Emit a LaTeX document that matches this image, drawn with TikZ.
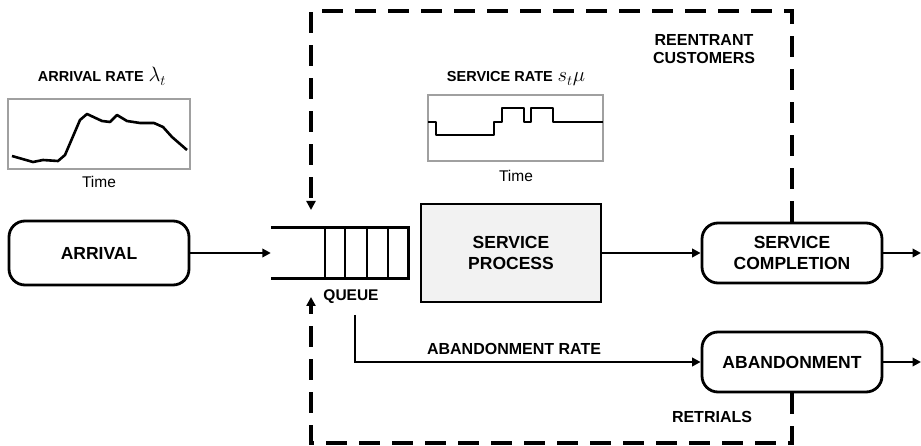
\documentclass[tikz,border=0pt]{standalone}
\usepackage{fontspec}
\setmainfont{Liberation Sans}
\usetikzlibrary{arrows.meta}
\newcommand\dgNode{\bfseries\fontsize{17.5}{21.5}\selectfont}
\newcommand\dgLabel{\bfseries\fontsize{16}{18.5}\selectfont}
\newcommand\dgTitle{\bfseries\fontsize{14.5}{17}\selectfont}
\newcommand\dgTime{\fontsize{15.5}{17}\selectfont}
\newcommand\dgMath{\fontsize{20.74}{21}\selectfont}
\definecolor{chartgray}{HTML}{A0A0A0}
\definecolor{procfill}{HTML}{F2F2F2}
\begin{document}
\begin{tikzpicture}[x=1pt,y=-1pt,
  rbox/.style={draw, line width=2.8pt, rounded corners=16pt, minimum width=180pt,
    minimum height=62pt, align=center, font=\dgNode, inner sep=0pt},
  pbox/.style={draw, line width=2.8pt, fill=procfill, minimum width=180pt,
    minimum height=98pt, align=center, font=\dgNode, inner sep=0pt},
  arr/.style={line width=2.8pt, -{Triangle[length=8.5pt,width=8.5pt]}},
  dline/.style={line width=3.3pt, dash pattern=on 21pt off 12pt,
    -{Triangle[length=9pt,width=9pt]}},
  chart/.style={draw=chartgray, line width=1.2pt},
  curve/.style={line width=2.6pt, line join=round},
  qline/.style={line width=2.8pt},
  lbl/.style={font=\dgLabel, align=center, inner sep=0pt},
]
\useasboundingbox (0,0) rectangle (921,446);

% ---- arrival rate chart ----
\node[font=\dgTitle, anchor=base, inner sep=0pt] (arrtitle) at (102,82) {ARRIVAL RATE\,\,{\dgMath$\lambda_t$}};
\draw[chart] (8,99) rectangle (190,169);
\draw[curve] (12,156) -- (33,162) -- (43,160) -- (58,161) -- (65,155) -- (80,120) -- (87,114)
  -- (102,121) -- (110,122) -- (117,115) -- (127,121) -- (140,123) -- (154,123) -- (163,127)
  -- (172,137) -- (187,150);
\node[font=\dgTime, inner sep=0pt] (time1) at (99,182) {Time};

% ---- service rate chart ----
\node[font=\dgTitle, anchor=base, inner sep=0pt] (sertitle) at (516,82) {SERVICE RATE\,\,{\dgMath$s_t\mu$}};
\draw[chart] (428,95) rectangle (603,161);
\draw[curve] (428,122) -- (436,122) -- (436,135) -- (494,135) -- (494,122) -- (502,122)
  -- (502,108) -- (524,108) -- (524,122) -- (531,122) -- (531,108) -- (553,108)
  -- (553,122) -- (603,122);
\node[font=\dgTime, inner sep=0pt] (time2) at (516,176) {Time};

% ---- reentrant label ----
\node[lbl] (reent) at (704,49) {REENTRANT\\CUSTOMERS};

% ---- main nodes ----
\node[rbox, minimum height=64pt] (arrival) at (99,253) {ARRIVAL};
\node[minimum width=137pt, minimum height=50pt, inner sep=0pt] (queue) at (339.5,253) {};
\draw[qline] (queue.north west) -- (queue.north east) -- (queue.south east) -- (queue.south west);
\foreach \qx in {325,345,367,388} \draw[qline] (\qx,228) -- (\qx,278);
\node[lbl, font=\bfseries\fontsize{15.5}{17}\selectfont] (qlabel) at (351,297) {QUEUE};
\node[pbox] (service) at (511,253) {SERVICE\\PROCESS};
\node[rbox, minimum height=60pt] (compl) at (792,253) {SERVICE\\COMPLETION};
\node[rbox, minimum height=60pt] (aband) at (792,362) {ABANDONMENT};

% ---- solid connectors ----
\draw[arr] (arrival) -- (queue.west);
\draw[arr] (service) -- (compl);
\coordinate (out1) at (921,253);
\coordinate (out2) at (921,362);
\draw[arr] (compl) -- (out1);
\draw[arr] (aband) -- (out2);
\coordinate (abstart) at (355,315);
\draw[arr] (abstart) |- (aband.west);
\node[lbl] (abrate) at (514,349) {ABANDONMENT RATE};
\node[lbl] (retr) at (712,417) {RETRIALS};

% ---- dashed feedback loops ----
\coordinate (topL) at (311,11);
\coordinate (qin) at (311,210);
\draw[dline] (compl.north) |- (topL) -- (qin);
\coordinate (botL) at (311,443);
\coordinate (qout) at (311,297);
\draw[dline] (aband.south) |- (botL) -- (qout);
\end{tikzpicture}
\end{document}
